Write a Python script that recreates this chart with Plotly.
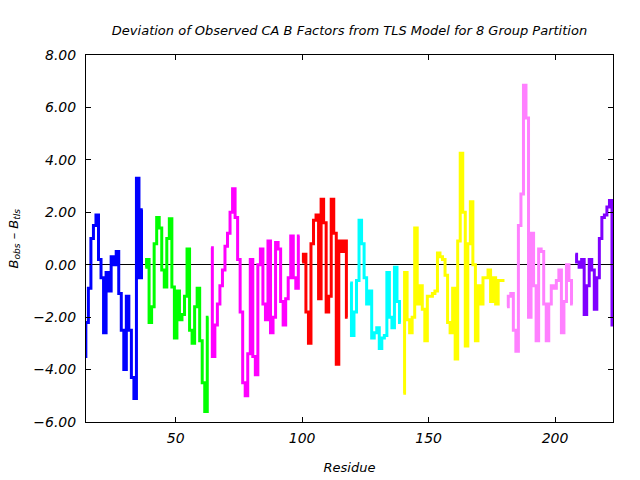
import plotly.graph_objects as go

# Residue ranges (first residue of each TLS group) and B-factor deviations
blue_start = 14
blue_vals = [-3.5, -2.2, -0.9, 1.0, 1.5, 1.9, 0.2, -0.5, -2.6, -0.3, -1.0, 0.3, 0.0, 0.5,
             -1.1, -2.5, -4.0, -1.2, -2.5, -4.3, -5.1, 3.3, -0.5, 2.1]
green_start = 38
green_vals = [-0.1, 0.2, -2.2, -1.6, 0.8, 1.8, 1.4, -0.2, -0.85, 1.0, 1.75, -0.85, -2.8,
              -1.0, -2.1, -1.9, -1.2, 0.6, -2.5, -3.0, -1.6, -0.9, -2.9, -4.5, -5.6, -2.0]
magenta_start = 64
magenta_vals = [0.65, -3.5, -2.3, -1.5, -0.8, -0.2, 0.7, 1.2, 2.0, 2.9, 1.8, 0.2, -1.8,
                -4.5, -5.0, -3.4, 0.2, -3.5, -4.2, 0.0, 0.6, -1.5, -2.1, 0.9, -2.6, -2.0,
                0.85, 0.6, -1.4, -2.3, -1.3, -0.5, 1.1, -0.5, -0.9, 1.1]
red_start = 100
red_vals = [0.1, 0.4, -1.8, -3.0, 0.8, 1.7, 1.9, -1.3, 2.5, 1.6, -1.8, -1.2, 2.5, 1.2,
            -3.8, 0.9, 0.5, 0.9, -2.0]
cyan_start = 119
cyan_vals = [-0.7, -2.7, -1.8, -0.6, 1.7, 0.8, -0.5, -1.5, -1.0, -2.8, -2.6, -2.4, -3.2,
             -2.8, -2.7, -0.3, -2.0, -2.4, -0.1, -1.4, -2.2]
yellow_start = 140
yellow_vals = [-4.9, -0.3, -2.1, -2.6, -2.0, 1.4, -1.5, -0.8, -1.7, -2.9, -1.2, -1.2, -1.1,
               -1.0, 0.45, 0.3, 0.2, -0.4, -2.2, -2.6, -0.9, -3.6, 0.9, 4.25, 2.0, -3.1,
               0.8, 2.4, 0.0, -2.9, -0.8, -1.5, -0.5, -0.5, -0.2, -1.4, -0.5, -1.5, -0.6,
               -0.6, -0.6]
pink_start = 181
pink_vals = [-1.6, -1.2, -1.1, -2.5, -3.3, 1.5, 2.7, 6.85, 5.6, -2.0, 1.2, -0.8, -2.9, 0.6,
             0.5, -1.5, -2.9, -1.5, -0.8, -0.9, -0.6, -0.2, -2.6, -1.4, 0.0, -0.6, -1.5]
purple_start = 208
purple_vals = [0.4, 0.1, -0.1, 0.2, -1.9, -0.8, 0.2, -0.2, -1.7, -0.5, 1.0, 1.8, 1.9, 2.2,
               2.45, -2.3]

groups = [
    (blue_start, blue_vals, "#0000ff"),
    (green_start, green_vals, "#00ff00"),
    (magenta_start, magenta_vals, "#ff00ff"),
    (red_start, red_vals, "#ff0000"),
    (cyan_start, cyan_vals, "#00ffff"),
    (yellow_start, yellow_vals, "#ffff00"),
    (pink_start, pink_vals, "#ff80ff"),
    (purple_start, purple_vals, "#8000ff"),
]

x_ticks = [50, 100, 150, 200]
y_ticks = [-6, -4, -2, 0, 2, 4, 6, 8]

FONT = "DejaVu Sans"

fig = go.Figure()
for start, vals, color in groups:
    xs = list(range(start, start + len(vals)))
    fig.add_trace(go.Scatter(x=xs, y=vals, mode="lines",
                             line=dict(color=color, width=3, shape="hvh"),
                             showlegend=False, hoverinfo="skip"))

fig.update_layout(
    width=640, height=480,
    margin=dict(l=86, r=27, t=55, b=58),
    paper_bgcolor="white", plot_bgcolor="white",
    font=dict(family=FONT, size=13, color="black", style="italic"),
    title=dict(text="Deviation of Observed CA B Factors from TLS Model for 8 Group Partition",
               x=0.5, xref="paper", y=1 - 30 / 480, yref="container",
               xanchor="center", yanchor="middle",
               font=dict(family=FONT, size=13, color="black", style="italic")),
    xaxis=dict(range=[14.56, 222.9], tickvals=x_ticks, ticktext=[str(v) for v in x_ticks],
               ticks="inside", ticklen=5, tickcolor="black", mirror="ticks",
               showline=True, linecolor="black", linewidth=1, showgrid=False, zeroline=False,
               ticklabelstandoff=3, automargin=False,
               tickfont=dict(family=FONT, size=14, style="italic"),
               title=dict(text="Residue", standoff=18,
                          font=dict(family=FONT, size=13, style="italic"))),
    yaxis=dict(range=[-6, 8], tickvals=y_ticks, tickformat=".2f",
               ticks="inside", ticklen=5, tickcolor="black", mirror="ticks",
               showline=True, linecolor="black", linewidth=1, showgrid=False,
               zeroline=True, zerolinecolor="black", zerolinewidth=1,
               ticklabelstandoff=6, automargin=False,
               tickfont=dict(family=FONT, size=14, style="italic")),
)

fig.add_annotation(text="B<sub>obs</sub> – B<sub>tls</sub>",
                   xref="paper", yref="paper", x=(14 - 86) / 527, y=0.5,
                   xanchor="center", yanchor="middle", textangle=-90, showarrow=False,
                   font=dict(family=FONT, size=13, color="black", style="italic"))

fig.write_html("out.html")
